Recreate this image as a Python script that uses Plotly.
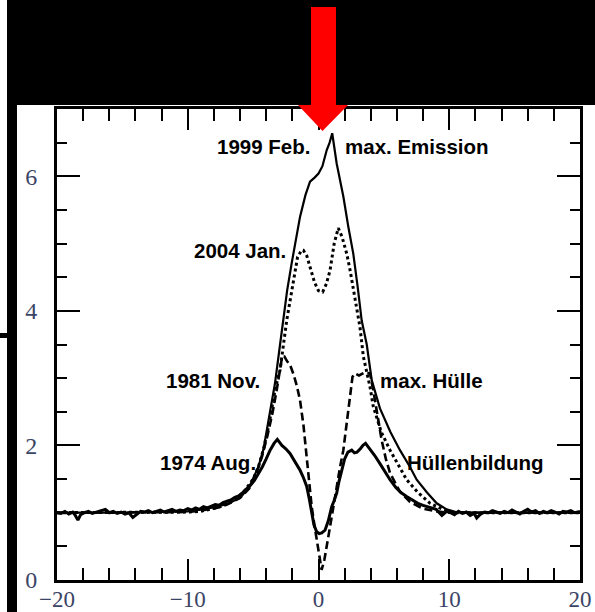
import plotly.graph_objects as go

# ---------------- data ----------------
v_1999 = [-20, -15, -10, -9, -8, -7, -6, -5.3, -4.6, -4.2, -3.84, -3.33, -2.94, -2.69, -2.4, -2.05,
          -1.7, -1.41, -1.0, -0.65, -0.3, 0.0, 0.3, 0.63, 0.85, 1.05, 1.39, 1.6, 1.9, 2.28, 2.66,
          3.0, 3.3, 3.69, 4.07, 4.7, 5.5, 6.23, 7.0, 7.51, 8.3, 9.04, 9.8, 10.5, 12, 15, 20]
f_1999 = [1.0, 1.0, 1.02, 1.05, 1.08, 1.13, 1.22, 1.38, 1.68, 1.95, 2.33, 2.92, 3.5, 3.86, 4.3, 4.71,
          5.1, 5.40, 5.72, 5.92, 5.98, 6.04, 6.15, 6.39, 6.5, 6.64, 6.19, 6.0, 5.7, 5.25, 4.85,
          4.35, 3.86, 3.5, 2.97, 2.55, 2.2, 1.93, 1.68, 1.49, 1.3, 1.14, 1.05, 1.01, 1.0, 1.0, 1.0]

v_2004 = [-20, -15, -10, -9, -7.5, -6.5, -5.75, -5.0, -4.6, -4.2, -3.8, -3.3, -2.94, -2.43, -1.93,
          -1.6, -1.3, -1.16, -0.9, -0.6, -0.3, 0.0, 0.32, 0.6, 0.88, 1.2, 1.51, 1.8, 2.16, 2.41,
          2.8, 3.17, 3.43, 3.94, 4.19, 4.8, 5.47, 6.1, 6.74, 7.6, 8.53, 9.5, 10.5, 15, 20]
f_2004 = [1.0, 1.0, 1.01, 1.02, 1.09, 1.18, 1.3, 1.5, 1.68, 1.95, 2.3, 2.85, 3.12, 3.86, 4.46,
          4.8, 4.9, 4.9, 4.82, 4.62, 4.42, 4.3, 4.28, 4.4, 4.6, 5.0, 5.23, 5.1, 4.85, 4.61,
          4.2, 3.76, 3.32, 2.87, 2.58, 2.2, 1.93, 1.7, 1.49, 1.3, 1.14, 1.05, 1.0, 1.0, 1.0]

v_1981 = [-20, -15, -10, -8, -7, -6, -5.3, -4.8, -4.3, -3.9, -3.5, -3.2, -2.95, -2.8, -2.6, -2.4,
          -2.18, -1.9, -1.65, -1.41, -1.15, -0.9, -0.7, -0.52, -0.3, -0.14, 0.05, 0.24, 0.45,
          0.65, 0.88, 1.15, 1.39, 1.65, 1.9, 2.1, 2.28, 2.45, 2.6, 2.79, 3.1, 3.5, 3.94, 4.19,
          4.5, 4.83, 5.15, 5.47, 6.2, 7.0, 8.0, 9.0, 10, 15, 20]
f_1981 = [1.0, 1.0, 1.01, 1.06, 1.12, 1.22, 1.36, 1.55, 1.85, 2.15, 2.5, 2.82, 3.1, 3.3, 3.32, 3.25,
          3.2, 3.05, 2.88, 2.67, 2.3, 1.83, 1.45, 1.09, 0.8, 0.59, 0.35, 0.15, 0.3,
          0.55, 0.79, 1.1, 1.39, 1.68, 1.93, 2.25, 2.58, 2.85, 3.02, 3.07, 3.04, 3.08, 3.07, 2.82,
          2.45, 2.08, 1.8, 1.59, 1.32, 1.16, 1.06, 1.02, 1.0, 1.0, 1.0]

v_1974 = [-20.0, -19.7, -19.4, -19.1, -18.8, -18.6, -18.4, -18.2, -17.9, -17.6, -17.3, -17.0, -16.7,
          -16.3, -16.0, -15.7, -15.4, -15.1, -14.8, -14.5, -14.2, -13.9, -13.6, -13.3, -13.0,
          -12.7, -12.4, -12.1, -11.8, -11.5, -11.2, -10.9, -10.6, -10.3, -10.0, -9.7, -9.4, -9.1,
          -8.8, -8.5, -8.2, -7.9, -7.6, -7.3, -7.0, -6.7, -6.4, -6.1, -5.8, -5.5, -5.2, -4.9,
          -4.6, -4.3, -4.0, -3.7, -3.4, -3.15,
          -2.8, -2.5, -2.18, -1.8, -1.41, -1.15, -0.9, -0.7, -0.52, -0.35, -0.15, 0.05, 0.25,
          0.5, 0.75, 1.01, 1.2, 1.39, 1.55, 1.75, 2.0, 2.25, 2.54, 2.75, 2.95, 3.2, 3.4, 3.6,
          3.8, 4.0, 4.3, 4.7, 5.1, 5.47, 5.9, 6.3, 6.74, 7.2, 7.6, 8.0, 8.5, 9.0, 9.44, 9.8,
          10.1, 10.4, 10.7, 11.0, 11.3, 11.6, 11.9, 12.1, 12.4, 12.7, 13.0, 13.3, 13.6, 13.9,
          14.2, 14.5, 14.8, 15.1, 15.4, 15.7, 16.0, 16.3, 16.6, 16.9, 17.2, 17.5, 17.8, 18.1,
          18.4, 18.7, 19.0, 19.3, 19.6, 20.0]
f_1974 = [1.00, 0.99, 1.02, 0.98, 1.01, 0.96, 0.89, 0.97, 1.00, 1.02, 0.99, 1.01, 1.03,
          1.05, 1.00, 1.02, 0.99, 1.01, 0.98, 1.00, 0.93, 0.97, 1.02, 1.01, 1.03,
          1.00, 1.02, 1.04, 1.01, 1.03, 1.05, 1.02, 1.04, 1.03, 1.06, 1.04, 1.07, 1.05,
          1.09, 1.07, 1.10, 1.12, 1.11, 1.15, 1.17, 1.19, 1.23, 1.25, 1.30, 1.35, 1.41, 1.48,
          1.57, 1.68, 1.80, 1.93, 2.03, 2.09,
          2.0, 1.95, 1.88, 1.76, 1.63, 1.52, 1.39, 1.2, 0.99, 0.82, 0.72, 0.69, 0.70,
          0.74, 0.88, 1.09, 1.18, 1.29, 1.45, 1.62, 1.8, 1.9, 1.93, 1.89, 1.9, 1.95, 2.0, 2.03,
          1.98, 1.93, 1.85, 1.73, 1.6, 1.49, 1.38, 1.3, 1.24, 1.18, 1.14, 1.11, 1.08, 1.05, 0.96, 1.02,
          1.00, 0.97, 1.02, 0.99, 1.01, 0.96, 0.99, 0.92, 0.98, 1.01, 1.00, 1.03, 1.01, 0.99,
          1.02, 1.00, 1.04, 1.01, 0.98, 1.02, 1.05, 1.01, 1.03, 0.99, 1.02, 1.00, 1.03, 1.01,
          0.98, 1.02, 1.01, 1.03, 1.00, 1.02]

labels_left = ["1999 Feb.", "2004 Jan.", "1981 Nov.", "1974 Aug."]
labels_left_x = [-0.5, -2.33, -4.32, -4.63]
labels_left_y = [6.45, 4.90, 2.97, 1.74]
labels_right = ["max. Emission", "max. Hülle", "Hüllenbildung"]
labels_right_x = [1.87, 4.55, 6.6]
labels_right_y = [6.45, 2.97, 1.74]

x_range = [-20, 20]
y_range = [0, 7]

# ---------------- figure ----------------
W, H = 595, 612
L, R, T, B = 57, 15, 109, 32
pw, ph = W - L - R, H - T - B


def px(xp):
    return (xp - L) / pw


def py(yp):
    return (H - B - yp) / ph


fig = go.Figure()
fig.add_trace(go.Scatter(x=v_1999, y=f_1999, mode="lines",
                         line=dict(color="black", width=2.2), hoverinfo="skip"))
fig.add_trace(go.Scatter(x=v_2004, y=f_2004, mode="lines",
                         line=dict(color="black", width=3, dash="dot"), hoverinfo="skip"))
fig.add_trace(go.Scatter(x=v_1981, y=f_1981, mode="lines",
                         line=dict(color="black", width=2.6, dash="8px,4px"), hoverinfo="skip"))
fig.add_trace(go.Scatter(x=v_1974, y=f_1974, mode="lines",
                         line=dict(color="black", width=3), hoverinfo="skip"))

ann_font = dict(family="Liberation Sans, Arial, sans-serif", size=20.5, color="black", weight="bold")
for t, x, y in zip(labels_left, labels_left_x, labels_left_y):
    fig.add_annotation(x=x, y=y, text=t, showarrow=False, xanchor="right", yanchor="middle",
                       font=ann_font)
for t, x, y in zip(labels_right, labels_right_x, labels_right_y):
    fig.add_annotation(x=x, y=y, text=t, showarrow=False, xanchor="left", yanchor="middle",
                       font=ann_font)

tick_font_x = dict(family="Liberation Serif, Times New Roman, serif", size=23, color="#3b4466")
tick_font_y = dict(family="Liberation Serif, Times New Roman, serif", size=24, color="#3b4466")

fig.update_xaxes(range=x_range, tick0=0, dtick=10, ticks="inside", ticklen=21, tickwidth=2,
                 tickcolor="black", showline=True, linewidth=3, linecolor="black",
                 mirror="ticks", showgrid=False, zeroline=False, tickfont=tick_font_x,
                 ticklabelstandoff=-4, automargin=False,
                 minor=dict(dtick=2, tick0=0, ticks="inside", ticklen=12, tickwidth=2,
                            tickcolor="black", showgrid=False))
fig.update_yaxes(range=y_range, tick0=0, dtick=2, ticks="inside", ticklen=23, tickwidth=2,
                 tickcolor="black", showline=True, linewidth=3, linecolor="black",
                 mirror="ticks", showgrid=False, zeroline=False, tickfont=tick_font_y,
                 ticklabelstandoff=12, automargin=False,
                 minor=dict(dtick=0.5, tick0=0, ticks="inside", ticklen=10, tickwidth=2,
                            tickcolor="black", showgrid=False))
fig.update_layout(
    yaxis2=dict(range=y_range, overlaying="y", side="left", anchor="x", tick0=0, dtick=1,
                ticks="inside", ticklen=15, tickwidth=2, tickcolor="black",
                showticklabels=False, showgrid=False, zeroline=False, showline=False,
                mirror="ticks", automargin=False),
)

# decorations: black frame bands and red arrow
shapes = [
    dict(type="rect", xref="paper", yref="paper", x0=px(7), x1=px(600), y0=py(105), y1=py(-5),
         fillcolor="black", line=dict(width=0), layer="above"),
    dict(type="rect", xref="paper", yref="paper", x0=px(7), x1=px(17), y0=py(620), y1=py(-5),
         fillcolor="black", line=dict(width=0), layer="above"),
    dict(type="rect", xref="paper", yref="paper", x0=px(-5), x1=px(8), y0=py(338), y1=py(333),
         fillcolor="black", line=dict(width=0), layer="above"),
]
arrow_pts = [(311, 7), (336, 7), (336, 105), (348, 105), (322.5, 131), (298, 105), (311, 105)]
path = "M " + " L ".join(f"{px(a):.5f},{py(b):.5f}" for a, b in arrow_pts) + " Z"
shapes.append(dict(type="path", xref="paper", yref="paper", path=path, fillcolor="#ff0000",
                   line=dict(width=0), layer="above"))

fig.update_layout(
    width=W, height=H, margin=dict(l=L, r=R, t=T, b=B, pad=0, autoexpand=False),
    paper_bgcolor="white", plot_bgcolor="white", showlegend=False,
    shapes=shapes,
)

fig.write_html(
    "out.html",
    config={"displayModeBar": False},
    post_script="document.body.style.margin='0';document.body.style.overflow='hidden';"
                "document.documentElement.style.overflow='hidden';",
)
